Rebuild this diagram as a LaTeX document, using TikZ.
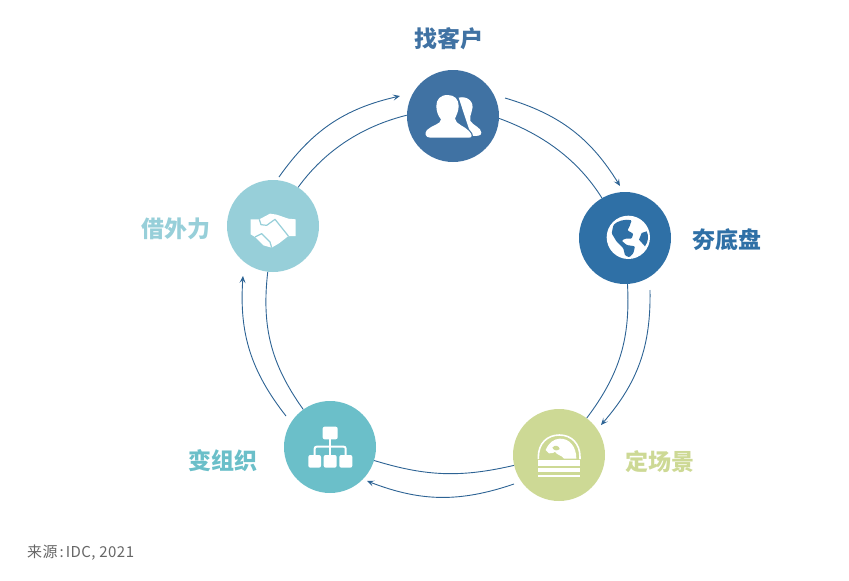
\documentclass[tikz,border=0pt]{standalone}
\usepackage{fontspec}
\setmainfont{Noto Sans CJK SC}
\usetikzlibrary{positioning, arrows.meta}
\definecolor{clientblue}{HTML}{4072A3}
\definecolor{baseblue}{HTML}{2F70A6}
\definecolor{scenegreen}{HTML}{CDD995}
\definecolor{orgteal}{HTML}{6BBFC9}
\definecolor{helpteal}{HTML}{97CFD9}
\definecolor{ringblue}{HTML}{2D6394}
\definecolor{notegray}{HTML}{666666}
\begin{document}
\begin{tikzpicture}[x=1pt, y=-1pt]
\tikzstyle{hub} = [circle, minimum size=92pt, inner sep=0pt]
\tikzstyle{title} = [font=\fontsize{23}{25}\selectfont\bfseries, inner sep=0pt]
\tikzstyle{ring} = [draw=ringblue, line width=0.9pt]
\tikzstyle{flow} = [draw=ringblue, line width=0.9pt, -{Stealth[length=7pt, width=6pt, inset=3pt]}]
\tikzstyle{ink} = [fill=white, draw=none]

\useasboundingbox (0,0) rectangle (849,581);

\node (client) [hub, fill=clientblue] at (453,116) {};
\node (base) [hub, fill=baseblue] at (625,238) {};
\node (scene) [hub, fill=scenegreen] at (559,455) {};
\node (org) [hub, fill=orgteal] at (330,447) {};
\node (help) [hub, fill=helpteal] at (273,226) {};

\node (clienttext) [title, text=clientblue, above=20pt of client, xshift=-4pt] {找客户};
\node (basetext) [title, text=baseblue, right=21pt of base, yshift=-2pt] {夯底盘};
\node (scenetext) [title, text=scenegreen, right=20pt of scene, yshift=-7pt] {定场景};
\node (orgtext) [title, text=orgteal, left=26pt of org, yshift=-14pt] {变组织};
\node (helptext) [title, text=helpteal, left=16pt of help, yshift=-3pt] {借外力};

\path[ring] (client.-3) to[out=-20, in=122, looseness=0.9] (base.120);
\path[ring] (base) to[bend left=20] (scene);
\path[ring] (scene) to[bend left=15] (org);
\path[ring] (org) to[bend left=21] (help);
\path[ring] (help.57) to[out=54, in=194, looseness=0.9] (client.179);

\coordinate (b1) at (505,98);
\coordinate (b2) at (620,186);
\coordinate (c1) at (650,290);
\coordinate (c2) at (601,425);
\coordinate (d1) at (514,484);
\coordinate (d2) at (367,481);
\coordinate (e1) at (286,416);
\coordinate (e2) at (243,276);
\coordinate (a1) at (279,177);
\coordinate (a2) at (400,96);

\path[flow] (b1) to[bend left=21] (b2);
\path[flow] (c1) to[bend left=21] (c2);
\path[flow] (d1) to[bend left=20] (d2);
\path[flow] (e1) to[bend left=21] (e2);
\path[flow] (a1) to[bend left=21] (a2);

\begin{scope}[shift={(client)}, scale=0.3333]
\path[ink] (17,-55) .. controls (45,-62) and (65,-40) .. (57,-18) .. controls (54,-2) and (48,5) .. (52,15) .. controls (60,28) and (85,35) .. (85,50) .. controls (85,60) and (75,60) .. (55,60) -- cycle;
\path[ink, preaction={draw=clientblue, line width=2.4pt}] (-68,65) .. controls (-85,65) and (-85,50) .. (-78,42) .. controls (-65,28) and (-36,25) .. (-36,10) .. controls (-45,0) and (-50,-15) .. (-50,-30) .. controls (-50,-50) and (-38,-63) .. (-16,-63) .. controls (5,-63) and (17,-50) .. (17,-30) .. controls (17,-15) and (10,-2) .. (6,8) .. controls (8,25) and (35,30) .. (48,45) .. controls (60,58) and (57,65) .. (48,65) -- cycle;
\end{scope}

\begin{scope}[shift={(base)}, scale=0.3333]
\path[ink] (10,-2) circle (65);
\path[fill=baseblue, rounded corners=1pt] (-35,-38) .. controls (-25,-50) and (0,-58) .. (20,-53) -- (13,-33) -- (7,-23) -- (25,-13) -- (20,2) -- (0,2) -- (-10,8) -- (5,21) -- (30,25) -- (25,46) -- (13,58) -- (0,52) -- (-5,31) -- (-25,11) -- (-40,-14) -- cycle;
\path[fill=baseblue] (50,-15) -- (65,-20) .. controls (72,-5) and (70,10) .. (60,25) -- (42,5) -- cycle;
\end{scope}

\begin{scope}[shift={(scene)}, scale=0.3333]
\path[draw=white, line width=1.6pt] (-62,12) -- (-62,6) .. controls (-62,-35) and (-35,-60) .. (1,-60) .. controls (37,-60) and (63,-35) .. (63,6) -- (63,12);
\path[ink] (-40,-15) .. controls (-30,-38) and (-15,-48) .. (2,-49) .. controls (32,-50) and (52,-25) .. (52,11) -- (15,11) .. controls (8,0) and (-8,0) .. (-12,-10) .. controls (-20,-2) and (-25,-8) .. (-30,-5) -- cycle;
\path[fill=scenegreen] (-20,-22) .. controls (-12,-32) and (0,-28) .. (2,-18) .. controls (-5,-12) and (-15,-12) .. (-20,-22) -- cycle;
\path[ink] (-64,16) rectangle (64,33);
\path[ink] (-64,40) rectangle (64,51);
\path[ink] (-64,60) rectangle (64,66);
\end{scope}

\begin{scope}[shift={(org)}, scale=0.3333]
\path[draw=white, line width=2pt, rounded corners=2pt] (-46,30) -- (-46,-1) -- (47,-1) -- (47,30);
\path[draw=white, line width=2pt] (0,-25) -- (0,30);
\path[ink, rounded corners=2pt] (-22,-61) rectangle (23,-23);
\path[ink, rounded corners=2pt] (-65,24) rectangle (-27,62);
\path[ink, rounded corners=2pt] (-19,24) rectangle (20,62);
\path[ink, rounded corners=2pt] (28,24) rectangle (67,62);
\end{scope}

\begin{scope}[shift={(help)}, scale=0.3333]
\path[ink] (-67,-20) -- (-41,-20) -- (-9,-37) -- (11,-34) -- (46,-22) -- (68,-20) -- (68,30) -- (46,30) -- (36,38) -- (18,52) -- (-4,65) -- (-29,58) -- (-54,33) -- (-67,25) -- cycle;
\path[draw=helpteal, line width=1.2pt, line join=round] (-41,-20) -- (-36,-4) -- (-19,-2) -- (6,-20) -- (46,30);
\path[draw=helpteal, line width=1.2pt, line join=round] (-54,33) -- (-34,23) -- (-9,48) -- (-4,65);
\end{scope}

\node (source) [anchor=west, inner sep=0pt, text=notegray, font=\fontsize{15}{18}\selectfont\addfontfeatures{LetterSpace=3}] at (27,553) {来源\kern2pt:\kern2pt IDC, 2021};
\end{tikzpicture}
\end{document}
